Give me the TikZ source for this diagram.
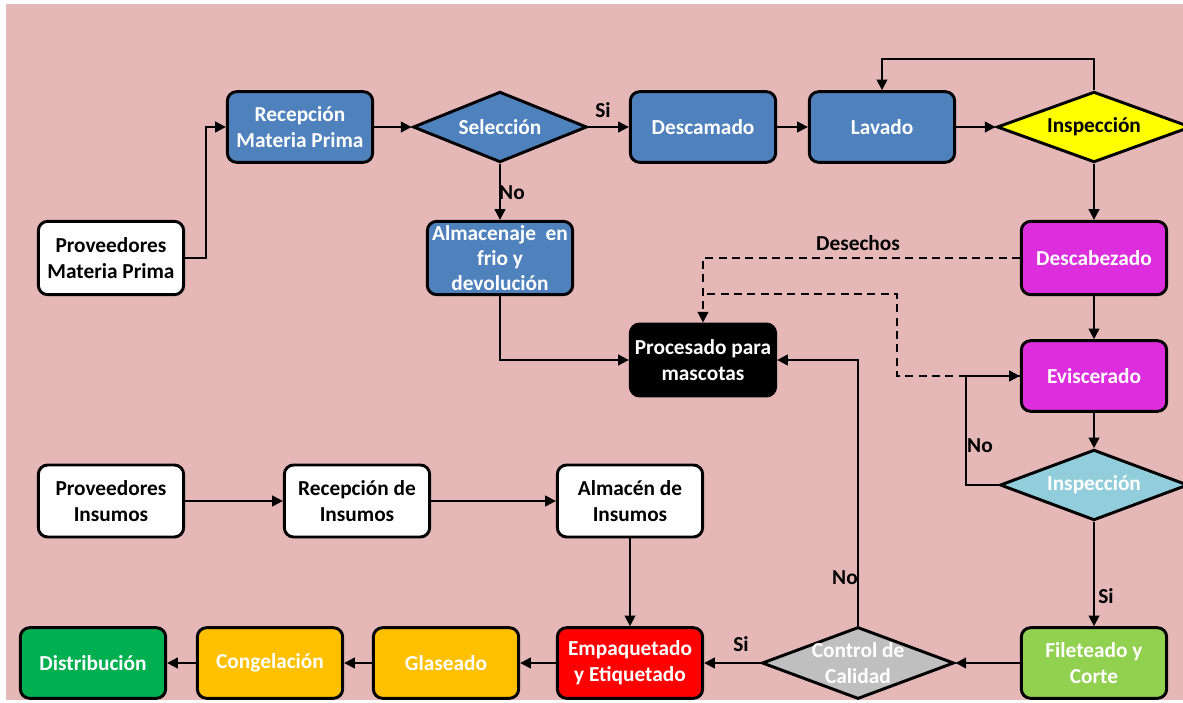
\documentclass[tikz,border=0pt]{standalone}
\usepackage{fontspec}
\setmainfont{Carlito}
\usetikzlibrary{shapes.geometric,arrows.meta}
\definecolor{fondo}{HTML}{E5B7B7}
\definecolor{azul}{HTML}{4F81BD}
\definecolor{amarillo}{HTML}{FFFF00}
\definecolor{morado}{HTML}{DC2EDC}
\definecolor{celeste}{HTML}{92CDDC}
\definecolor{verdeclaro}{HTML}{92D050}
\definecolor{gris}{HTML}{BFBFBF}
\definecolor{rojo}{HTML}{FF0000}
\definecolor{naranja}{HTML}{FFC000}
\definecolor{verde}{HTML}{00B050}
\tikzstyle{letra}=[font=\fontsize{16}{19.5}\selectfont\bfseries]
\tikzstyle{proceso}=[letra,draw,line width=2.2pt,rounded corners=7pt,minimum width=109pt,minimum height=53pt,align=center,inner sep=2pt]
\tikzstyle{decision}=[draw,diamond,line width=2.2pt,inner sep=0pt,minimum height=53pt]
\tikzstyle{dtexto}=[letra,align=center]
\tikzstyle{flecha}=[line width=1.5pt,-{Triangle[length=8pt,width=8pt]}]
\tikzstyle{desecho}=[flecha,dash pattern=on 6pt off 4pt]
\tikzstyle{etiq}=[letra,inner sep=1pt]

\begin{document}
\begin{tikzpicture}[x=0.75pt,y=-0.75pt]
  \clip (0,0) rectangle (1183,703);
  \fill[white] (0,0) rectangle (1183,703);
  \fill[fondo] (6,4) rectangle (1183,700);

  % materia prima
  \node [proceso,fill=white,minimum height=55pt] (provMP) at (111,258) {Proveedores\\Materia Prima};
  \node [proceso,fill=azul,text=white] (recMP) at (300,127) {Recepción\\Materia Prima};
  \node [decision,fill=azul,minimum width=130.5pt,label={[dtexto,text=white]center:Selección}] (selec) at (500,127) {};
  \node [proceso,fill=azul,text=white] (descam) at (703,127) {Descamado};
  \node [proceso,fill=azul,text=white] (lavado) at (882,127) {Lavado};
  \node [decision,fill=amarillo,minimum width=145.5pt,label={[dtexto]center:Inspección}] (inspA) at (1094,127) {};
  \node [proceso,fill=azul,text=white,minimum height=55pt,font=\fontsize{16}{18.5}\selectfont\bfseries] (almac) at (500,258) {Almacenaje~ en\\frio y\\devolución};
  \node [proceso,fill=morado,text=white,minimum height=55pt] (descab) at (1094,258) {Descabezado};
  \node [proceso,fill=black,text=white,minimum height=54pt] (mascota) at (703,360) {Procesado para\\mascotas};
  \node [proceso,fill=morado,text=white] (evis) at (1094,376) {Eviscerado};
  \node [decision,fill=celeste,minimum width=141pt,label={[dtexto,text=white]center:Inspección}] (inspB) at (1094,485) {};
  \node [proceso,fill=verdeclaro,text=white] (filete) at (1094,663) {Fileteado y\\Corte};
  \node [decision,fill=gris,minimum width=144pt,minimum height=54pt,label={[dtexto,text=white]center:{Control de\\Calidad}}] (control) at (858,663) {};

  % insumos y salida
  \node [proceso,fill=white,minimum height=54pt] (provIns) at (111,501) {Proveedores\\Insumos};
  \node [proceso,fill=white,minimum height=54pt] (recIns) at (357,501) {Recepción de\\Insumos};
  \node [proceso,fill=white,minimum height=54pt] (almIns) at (630,501) {Almacén de\\Insumos};
  \node [proceso,fill=rojo,text=white] (empaq) at (630,663) {Empaquetado\\y Etiquetado};
  \node [proceso,fill=naranja,text=white] (glas) at (446,663) {Glaseado};
  \node [proceso,fill=naranja,text=white] (congel) at (270,663) {Congelación};
  \node [proceso,fill=verde,text=white] (distri) at (93,663) {Distribución};

  % conectores
  \draw[flecha] (provMP.east) -- ++(21,0) |- (recMP.west);
  \draw[flecha] (recMP) -- (selec);
  \draw[flecha] (selec) -- (descam);
  \draw[flecha] (selec) -- (almac);
  \draw[flecha] (descam) -- (lavado);
  \draw[flecha] (lavado) -- (inspA);
  \draw[flecha] (inspA.north) -- ++(0,-31) -| (lavado.north);
  \draw[flecha] (inspA) -- (descab);
  \draw[flecha] (descab) -- (evis);
  \draw[flecha] (almac.south) |- (mascota.west);
  \draw[desecho] (descab.west) -| (mascota.north);
  \coordinate (unionD) at (703,294);
  \draw[desecho,-] (evis.west) -- ++(-123,0) |- (unionD);
  \draw[flecha] (evis) -- (inspB);
  \draw[flecha] (inspB.west) -- ++(-33,0) |- (evis.west);
  \draw[flecha] (inspB) -- (filete);
  \draw[flecha] (filete) -- (control);
  \draw[flecha] (control.north) |- (mascota.east);
  \draw[flecha] (control) -- (empaq);
  \draw[flecha] (empaq) -- (glas);
  \draw[flecha] (glas) -- (congel);
  \draw[flecha] (congel) -- (distri);
  \draw[flecha] (provIns) -- (recIns);
  \draw[flecha] (recIns) -- (almIns);
  \draw[flecha] (almIns) -- (empaq);

  % etiquetas
  \node [etiq] (siSel) at (603,110) {Si};
  \node [etiq] (noSel) at (512,193) {No};
  \node [etiq] (desech) at (858,243) {Desechos};
  \node [etiq] (noInsp) at (980,446) {No};
  \node [etiq] (siInsp) at (1106,596) {Si};
  \node [etiq] (noCtrl) at (845,578) {No};
  \node [etiq] (siCtrl) at (741,644) {Si};
\end{tikzpicture}
\end{document}
